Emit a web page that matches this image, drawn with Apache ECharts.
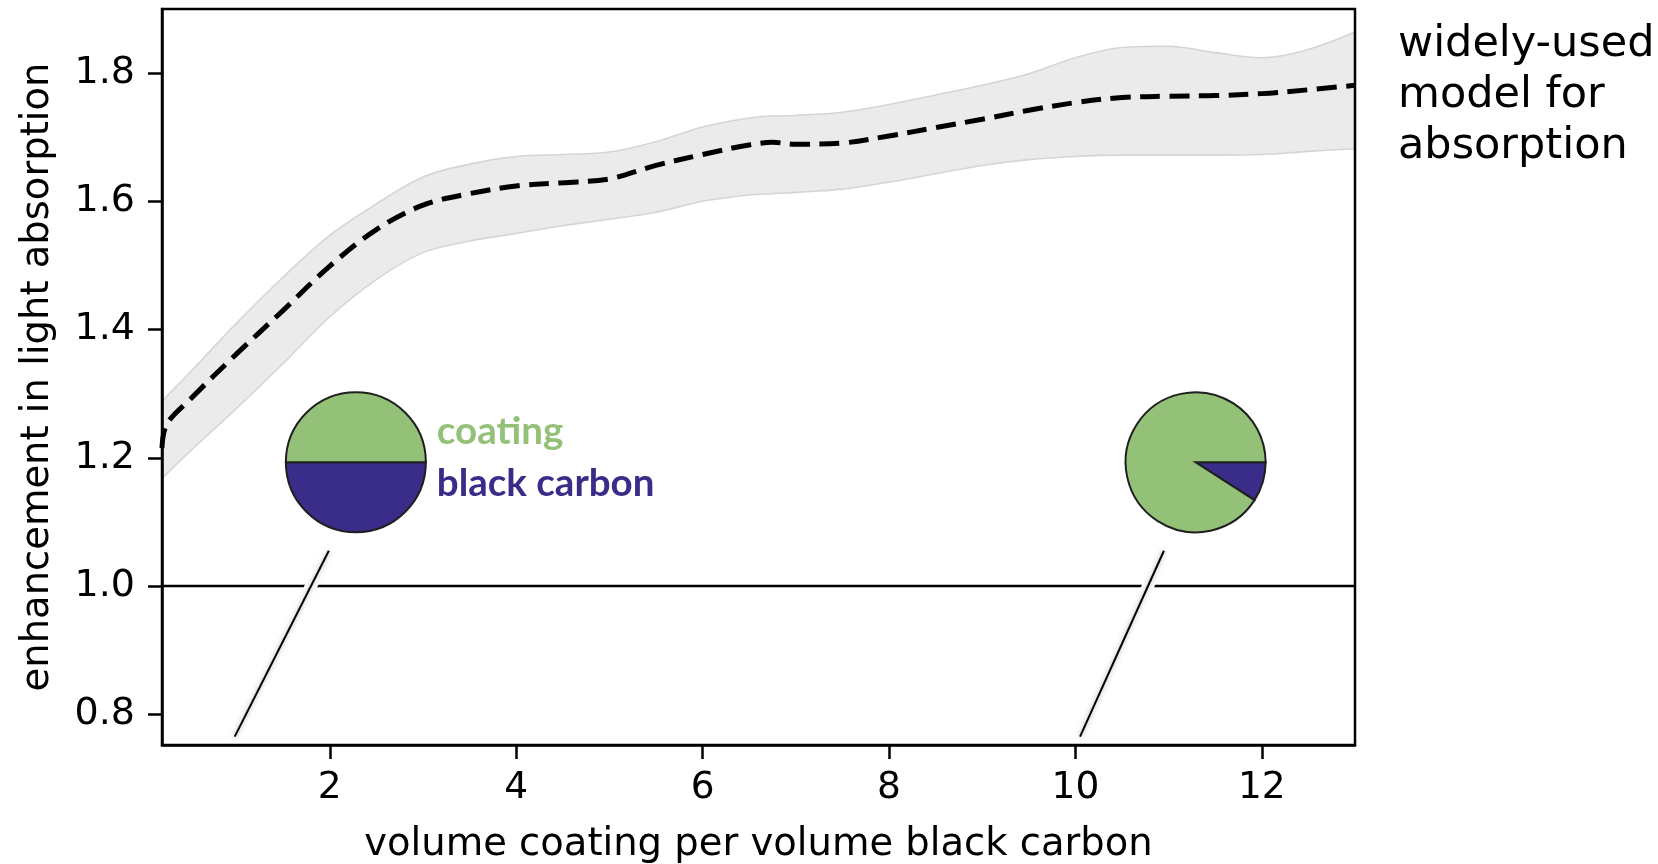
<!DOCTYPE html>
<html>
<head>
<meta charset="utf-8">
<script src="https://cdn.jsdelivr.net/npm/echarts@6/dist/echarts.min.js"></script>
<style>
html,body{margin:0;padding:0;background:#fff;}
#chart{width:1658px;height:864px;}
</style>
</head>
<body>
<div id="chart"></div>
<script>
// ---- data ----
const xVals  = [0.2, 0.25, 0.5, 1.0, 1.5, 2.0, 2.5, 3.0, 3.5, 4.0, 4.5, 5.0, 5.5, 6.0, 6.5, 6.75, 7.0, 7.5, 8.0, 8.5, 9.0, 9.5, 10.0, 10.5, 11.0, 11.5, 12.0, 12.5, 13.0];
const meanVals  = [1.215, 1.252, 1.291, 1.362, 1.430, 1.499, 1.556, 1.594, 1.612, 1.624, 1.629, 1.635, 1.656, 1.673, 1.688, 1.692, 1.689, 1.691, 1.702, 1.715, 1.728, 1.742, 1.754, 1.762, 1.764, 1.765, 1.768, 1.774, 1.781];
const upperVals = [1.288, 1.296, 1.333, 1.410, 1.482, 1.547, 1.596, 1.638, 1.658, 1.670, 1.673, 1.677, 1.693, 1.716, 1.730, 1.733, 1.734, 1.739, 1.751, 1.766, 1.781, 1.799, 1.824, 1.840, 1.842, 1.832, 1.824, 1.837, 1.864];
const lowerVals = [1.168, 1.175, 1.210, 1.277, 1.347, 1.420, 1.478, 1.520, 1.538, 1.550, 1.562, 1.572, 1.583, 1.600, 1.610, 1.612, 1.614, 1.619, 1.630, 1.643, 1.656, 1.665, 1.670, 1.672, 1.672, 1.672, 1.673, 1.678, 1.682];
const xTicks = [2, 4, 6, 8, 10, 12];
const yTicks = [0.8, 1.0, 1.2, 1.4, 1.6, 1.8];
const xRange = [0.2, 13];
const yRange = [0.752, 1.9];
const refLineY = 1.0;
// pie illustrations: coating volume per black-carbon volume
const pieRatio   = [1, 10];
const pieCenterX = [2.28, 11.29];
const pieCenterY = [1.193, 1.193];
const leaderBottomX = [0.98, 10.05];
const leaderTopX    = [1.99, 10.95];
const leaderBottomY = 0.765;
const leaderTopY    = 1.055;
const legendLabels = ['coating', 'black carbon'];
const xTitle = 'volume coating per volume black carbon';
const yTitle = 'enhancement in light absorption';
const sideNote = 'widely-used\nmodel for\nabsorption';

const GREEN = '#94c178';
const NAVY = '#392d89';
const FONT = '"DejaVu Sans"';

const chart = echarts.init(document.getElementById('chart'), null, {renderer: 'canvas'});

const smoothK = 0.35;
const option = {
  animation: false,
  backgroundColor: '#fff',
  grid: {left: 162, right: 303, top: 9, bottom: 119, show: true, z: 10, outerBoundsMode: 'none', containLabel: false,
    borderColor: '#000', borderWidth: 2.5, backgroundColor: 'transparent'},
  xAxis: {
    type: 'value', min: xRange[0], max: xRange[1], z: 10,
    axisLine: {show: true, onZero: false, lineStyle: {color: '#000', width: 2.5}},
    axisTick: {show: true, length: 14, customValues: xTicks, lineStyle: {color: '#000', width: 2.5}},
    axisLabel: {customValues: xTicks, margin: 24, fontSize: 37.5, color: '#000', fontFamily: FONT},
    splitLine: {show: false},
    name: xTitle, nameLocation: 'middle', nameGap: 80,
    nameTextStyle: {fontSize: 38.5, color: '#000', fontFamily: FONT}
  },
  yAxis: {
    type: 'value', min: yRange[0], max: yRange[1], z: 10,
    axisLine: {show: true, onZero: false, lineStyle: {color: '#000', width: 2.5}},
    axisTick: {show: true, length: 14, customValues: yTicks, lineStyle: {color: '#000', width: 2.5}},
    axisLabel: {customValues: yTicks, margin: 27, fontSize: 38, color: '#000', fontFamily: FONT,
      formatter: v => Number(v).toFixed(1)},
    splitLine: {show: false},
    name: yTitle, nameLocation: 'middle', nameGap: 105,
    nameTextStyle: {fontSize: 38.5, color: '#000', fontFamily: FONT}
  },
  graphic: [{
    type: 'text', left: 1398, top: 19,
    style: {text: sideNote, font: '43px ' + FONT, lineHeight: 51, fill: '#000'}
  }],
  series: [
    {
      type: 'line', name: 'bandUpperFill', silent: true, symbol: 'none', smooth: smoothK,
      data: xVals.map((x, i) => [x, upperVals[i]]),
      lineStyle: {color: '#d5d5d5', width: 1.6}, areaStyle: {color: '#ebebeb', opacity: 1, origin: 'start'}, z: 1
    },
    {
      type: 'line', name: 'bandLowerMask', silent: true, symbol: 'none', smooth: smoothK,
      data: xVals.map((x, i) => [x, lowerVals[i]]),
      lineStyle: {color: '#d5d5d5', width: 1.6}, areaStyle: {color: '#ffffff', opacity: 1, origin: 'start'}, z: 1.5
    },
    {
      type: 'line', name: 'ref', silent: true, symbol: 'none',
      data: [[xRange[0], refLineY], [xRange[1], refLineY]],
      lineStyle: {color: '#000', width: 2.6}, z: 3
    },
    {
      type: 'line', name: 'mean', silent: true, symbol: 'none', smooth: smoothK,
      data: xVals.map((x, i) => [x, meanVals[i]]),
      lineStyle: {color: '#000', width: 5, type: [20, 9.5], cap: 'butt'}, z: 4
    },
    {
      type: 'custom', name: 'leaders', silent: true, clip: false, z: 5,
      data: leaderBottomX.map((bx, i) => [bx, leaderBottomY, leaderTopX[i], leaderTopY]),
      encode: {x: [0, 2], y: [1, 3]},
      renderItem: (params, api) => {
        const p1 = api.coord([api.value(0), api.value(1)]);
        const p2 = api.coord([api.value(2), api.value(3)]);
        return {
          type: 'group',
          children: [
            {type: 'line', shape: {x1: p1[0], y1: p1[1], x2: p2[0], y2: p2[1]},
              style: {stroke: '#fff', lineWidth: 12, lineCap: 'butt'}},
            {type: 'line', shape: {x1: p1[0], y1: p1[1], x2: p2[0], y2: p2[1]},
              style: {stroke: '#000', lineWidth: 2, lineCap: 'butt', shadowBlur: 5, shadowColor: 'rgba(0,0,0,0.35)'}}
          ]
        };
      }
    },
    {
      type: 'custom', name: 'pies', silent: true, clip: false, z: 6,
      data: pieCenterX.map((x, i) => [x, pieCenterY[i], pieRatio[i]]),
      encode: {x: 0, y: 1},
      renderItem: (params, api) => {
        const c = api.coord([api.value(0), api.value(1)]);
        const f = 1 / (1 + api.value(2));
        const R = 70;
        const children = [
          {type: 'sector', shape: {cx: c[0], cy: c[1], r0: 0, r: R, startAngle: 0, endAngle: Math.PI * 2 * f, clockwise: true},
            style: {fill: NAVY, stroke: '#1f1f1f', lineWidth: 2}},
          {type: 'sector', shape: {cx: c[0], cy: c[1], r0: 0, r: R, startAngle: Math.PI * 2 * f, endAngle: Math.PI * 2, clockwise: true},
            style: {fill: GREEN, stroke: '#1f1f1f', lineWidth: 2}}
        ];
        if (params.dataIndex === 0) {
          children.push({type: 'text', x: c[0] + 81, y: c[1] - 31,
            style: {text: legendLabels[0], font: 'bold 38.5px Lato', fill: GREEN, align: 'left', verticalAlign: 'middle'}});
          children.push({type: 'text', x: c[0] + 81, y: c[1] + 21,
            style: {text: legendLabels[1], font: 'bold 38.5px Lato', fill: NAVY, align: 'left', verticalAlign: 'middle'}});
        }
        return {type: 'group', children};
      }
    }
  ]
};
chart.setOption(option);
</script>
</body>
</html>
